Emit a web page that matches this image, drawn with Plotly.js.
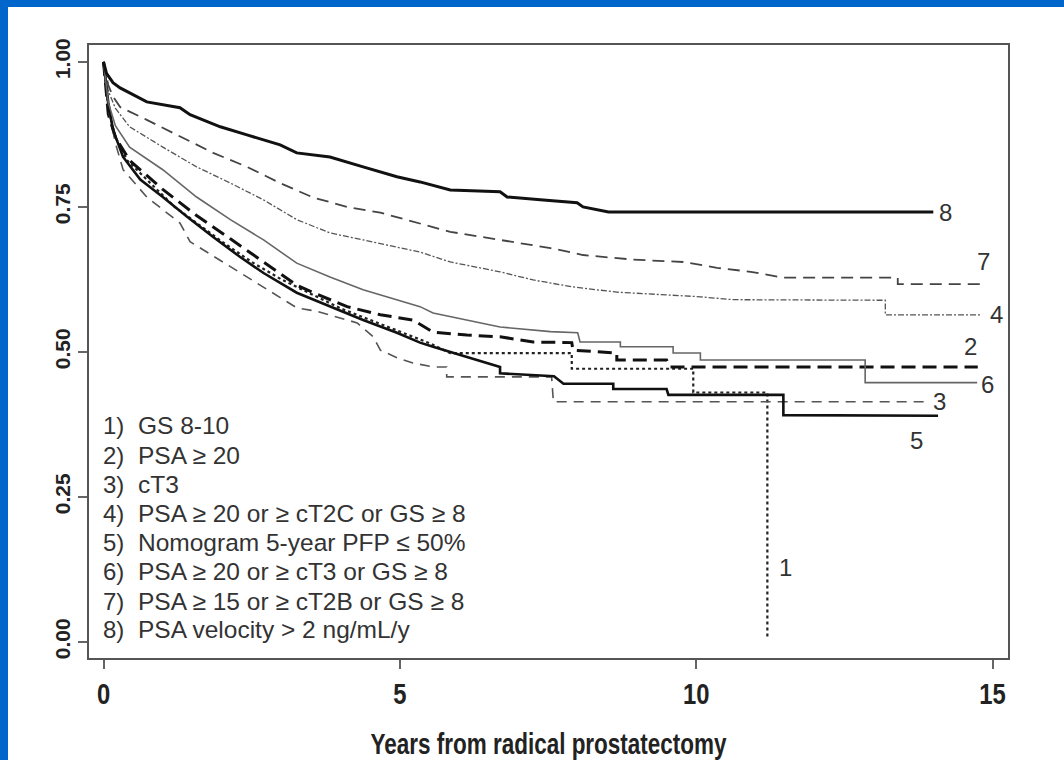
<!DOCTYPE html>
<html>
<head>
<meta charset="utf-8">
<script src="https://cdn.plot.ly/plotly-3.0.1.min.js"></script>
<style>
  html, body { margin: 0; padding: 0; background: #ffffff; }
  #wrap { position: relative; width: 1064px; height: 760px; overflow: hidden; }
  #chart { position: absolute; left: 0; top: 0; width: 1064px; height: 760px; }
  .bar { position: absolute; background: #0066CC; z-index: 10; }
</style>
</head>
<body>
<div id="wrap">
  <div id="chart"></div>
  <div class="bar" style="left:0;top:0;width:1064px;height:7px;"></div>
  <div class="bar" style="left:0;top:0;width:8px;height:760px;"></div>
</div>
<script>
// ---- Data ----
const curveIds = ["1", "2", "3", "4", "5", "6", "7", "8"];
const legendNums = ["1)", "2)", "3)", "4)", "5)", "6)", "7)", "8)"];
const legendLabels = [
  "GS 8-10",
  "PSA \u2265 20",
  "cT3",
  "PSA \u2265 20 or \u2265 cT2C or GS \u2265 8",
  "Nomogram 5-year PFP \u2264 50%",
  "PSA \u2265 20 or \u2265 cT3 or GS \u2265 8",
  "PSA \u2265 15 or \u2265 cT2B or GS \u2265 8",
  "PSA velocity > 2 ng/mL/y"
];
const xTickVals = [0, 5, 10, 15];
const yTickVals = [0, 0.25, 0.5, 0.75, 1];
const yTickText = ["0.00", "0.25", "0.50", "0.75", "1.00"];
const xTitle = "Years from radical prostatectomy";

const t1 = [0, 0.08, 0.2, 0.4, 0.8, 1.2, 1.6, 2.0, 2.5, 3.0, 3.5, 4.0, 4.5, 5.0, 5.5, 5.85, 7.9, 7.9, 9.95, 9.95, 11.2, 11.2];
const s1 = [1, 0.92, 0.87, 0.83, 0.79, 0.75, 0.72, 0.69, 0.655, 0.625, 0.6, 0.575, 0.555, 0.535, 0.515, 0.498, 0.498, 0.471, 0.471, 0.43, 0.43, 0.009];

const t2 = [0, 0.08, 0.2, 0.44, 1.0, 1.57, 2.14, 2.70, 3.26, 3.54, 4.11, 4.67, 5.0, 5.22, 5.56, 6.13, 6.69, 7.25, 7.9, 7.92, 8.66, 8.66, 9.5, 9.56, 14.75];
const s2 = [1, 0.91, 0.87, 0.83, 0.78, 0.735, 0.695, 0.655, 0.615, 0.602, 0.578, 0.564, 0.558, 0.555, 0.534, 0.529, 0.526, 0.517, 0.516, 0.503, 0.498, 0.486, 0.486, 0.474, 0.474];

const t3 = [0, 0.08, 0.2, 0.33, 0.73, 1.29, 1.46, 1.85, 2.42, 2.70, 3.26, 3.6, 4.28, 4.55, 4.67, 4.95, 5.22, 5.56, 5.79, 5.79, 7.56, 7.59, 13.9];
const s3 = [1, 0.92, 0.86, 0.814, 0.767, 0.722, 0.69, 0.665, 0.629, 0.612, 0.576, 0.57, 0.55, 0.526, 0.503, 0.49, 0.481, 0.474, 0.474, 0.457, 0.457, 0.414, 0.414];

const t4 = [0, 0.08, 0.2, 0.44, 1.0, 1.57, 2.14, 2.70, 3.26, 3.82, 4.38, 4.95, 5.34, 5.85, 6.69, 7.25, 7.92, 8.66, 9.5, 10.07, 10.62, 13.19, 13.19, 14.79];
const s4 = [1, 0.95, 0.92, 0.888, 0.853, 0.819, 0.791, 0.762, 0.728, 0.705, 0.693, 0.681, 0.672, 0.655, 0.638, 0.624, 0.612, 0.603, 0.598, 0.595, 0.59, 0.589, 0.564, 0.564];

const t5 = [0, 0.08, 0.16, 0.33, 0.62, 1.0, 1.41, 1.85, 2.30, 2.70, 3.26, 3.82, 4.38, 4.95, 5.34, 5.56, 6.13, 6.69, 6.69, 7.37, 7.6, 7.76, 8.6, 8.6, 9.5, 9.53, 11.47, 11.47, 14.08];
const s5 = [1, 0.93, 0.883, 0.836, 0.797, 0.767, 0.733, 0.698, 0.664, 0.636, 0.602, 0.578, 0.555, 0.533, 0.516, 0.509, 0.491, 0.474, 0.463, 0.46, 0.458, 0.445, 0.445, 0.436, 0.436, 0.426, 0.426, 0.391, 0.39];

const t6 = [0, 0.08, 0.2, 0.44, 1.0, 1.57, 2.14, 2.70, 3.26, 3.82, 4.38, 4.95, 5.34, 5.56, 6.13, 6.69, 7.54, 8.0, 8.04, 8.72, 8.72, 9.61, 9.61, 10.07, 10.07, 12.85, 12.85, 14.74];
const s6 = [1, 0.93, 0.89, 0.853, 0.814, 0.767, 0.728, 0.693, 0.653, 0.629, 0.607, 0.59, 0.578, 0.567, 0.555, 0.543, 0.535, 0.533, 0.517, 0.517, 0.509, 0.509, 0.498, 0.498, 0.486, 0.486, 0.447, 0.447];

const t7 = [0, 0.08, 0.16, 0.28, 0.73, 1.29, 1.85, 2.42, 2.98, 3.54, 4.11, 4.67, 5.0, 5.34, 5.85, 6.69, 7.54, 8.09, 8.94, 9.78, 10.35, 10.92, 11.47, 13.4, 13.4, 14.87];
const s7 = [1, 0.96, 0.94, 0.922, 0.9, 0.871, 0.843, 0.819, 0.791, 0.766, 0.75, 0.74, 0.731, 0.722, 0.707, 0.693, 0.679, 0.667, 0.659, 0.655, 0.645, 0.638, 0.628, 0.628, 0.617, 0.617];

const t8 = [0, 0.05, 0.16, 0.28, 0.73, 1.0, 1.29, 1.46, 1.97, 2.42, 2.98, 3.26, 3.82, 4.38, 4.95, 5.34, 5.85, 6.69, 6.81, 7.42, 7.99, 8.09, 8.52, 14.0];
const s8 = [1, 0.98, 0.964, 0.955, 0.931, 0.926, 0.921, 0.909, 0.888, 0.874, 0.857, 0.843, 0.836, 0.819, 0.802, 0.793, 0.779, 0.776, 0.767, 0.762, 0.757, 0.75, 0.741, 0.741];

// ---- Styles ----
const times = [t1, t2, t3, t4, t5, t6, t7, t8];
const survs = [s1, s2, s3, s4, s5, s6, s7, s8];
const lineStyles = [
  { color: "#222222", width: 2.2, dash: "dot" },
  { color: "#111111", width: 3, dash: "14px,7px" },
  { color: "#555555", width: 1.6, dash: "10px,7px" },
  { color: "#555555", width: 1.3, dash: "6px,2px,2px,2px" },
  { color: "#111111", width: 2.6, dash: "solid" },
  { color: "#666666", width: 1.6, dash: "solid" },
  { color: "#444444", width: 1.8, dash: "12px,7px" },
  { color: "#111111", width: 3, dash: "solid" }
];
// label positions (x in years, y in survival) for the curve-end numbers
const labelPos = [
  [11.51, 0.128], [14.62, 0.509], [14.10, 0.414], [15.07, 0.564],
  [13.72, 0.348], [14.91, 0.443], [14.84, 0.656], [14.21, 0.741]
];

const baseFont = "Liberation Sans, Arial, sans-serif";

const traces = curveIds.map((id, i) => ({
  type: "scatter",
  mode: "lines",
  x: times[i],
  y: survs[i],
  name: id,
  line: Object.assign({ shape: "linear" }, lineStyles[i]),
  hoverinfo: "skip",
  showlegend: false
}));

const annotations = [];
curveIds.forEach((id, i) => {
  annotations.push({
    x: labelPos[i][0], y: labelPos[i][1], xref: "x", yref: "y",
    text: id, showarrow: false, xanchor: "center", yanchor: "middle",
    font: { family: baseFont, size: 24, color: "#333333" }
  });
});
const legendY = [0.374, 0.322, 0.271, 0.222, 0.171, 0.121, 0.069, 0.021];
legendNums.forEach((n, i) => {
  annotations.push({
    x: -0.05, y: legendY[i], xref: "x", yref: "y",
    text: n, showarrow: false, xanchor: "left", yanchor: "middle",
    font: { family: baseFont, size: 24, color: "#333333" }
  });
  annotations.push({
    x: 0.55, y: legendY[i], xref: "x", yref: "y",
    text: legendLabels[i], showarrow: false, xanchor: "left", yanchor: "middle",
    font: { family: baseFont, size: 24.5, color: "#333333" }
  });
});

const layout = {
  width: 1064,
  height: 760,
  margin: { l: 89, r: 56, t: 45, b: 102 },
  paper_bgcolor: "#ffffff",
  plot_bgcolor: "#ffffff",
  showlegend: false,
  xaxis: {
    range: [-0.245, 15.26],
    tickvals: xTickVals,
    ticktext: xTickVals.map(String),
    ticks: "outside", ticklen: 9, tickwidth: 2, tickcolor: "#666666",
    showline: true, mirror: true, linewidth: 2, linecolor: "#555555",
    showgrid: false, zeroline: false,
    tickfont: { family: baseFont, size: 29, color: "#222222", weight: "bold" },
    title: { text: xTitle, standoff: 25,
             font: { family: baseFont, size: 30, color: "#222222", weight: "bold" } }
  },
  yaxis: {
    range: [-0.0276, 1.029],
    tickvals: yTickVals,
    ticktext: yTickText,
    tickangle: -90,
    ticks: "outside", ticklen: 9, tickwidth: 2, tickcolor: "#666666",
    showline: true, mirror: true, linewidth: 2, linecolor: "#555555",
    showgrid: false, zeroline: false,
    tickfont: { family: baseFont, size: 21, color: "#222222", weight: "bold" }
  },
  annotations: annotations
};

Plotly.newPlot("chart", traces, layout, { displayModeBar: false, staticPlot: true }).then(() => {
  // condense the x-axis title and tick labels like the narrow face of the original
  const title = document.querySelector(".g-xtitle text");
  if (title) {
    title.setAttribute("textLength", "356");
    title.setAttribute("lengthAdjust", "spacingAndGlyphs");
  }
  document.querySelectorAll(".xtick text").forEach(el => {
    const w = el.getComputedTextLength();
    el.setAttribute("textLength", String(w * 0.82));
    el.setAttribute("lengthAdjust", "spacingAndGlyphs");
  });
});
</script>
</body>
</html>
